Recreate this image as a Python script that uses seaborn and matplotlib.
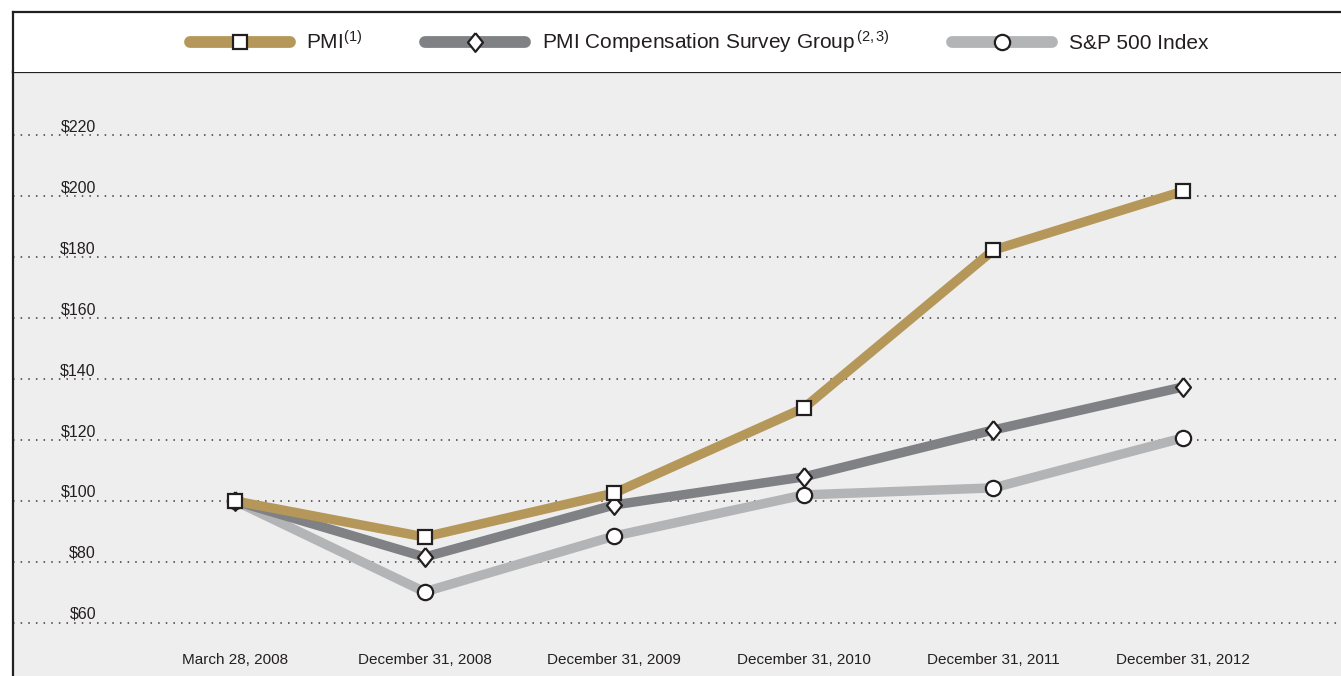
import numpy as np
import pandas as pd
import seaborn as sns
import matplotlib.pyplot as plt
from matplotlib.lines import Line2D
from matplotlib.transforms import blended_transform_factory

# Data
dates = ["March 28, 2008", "December 31, 2008", "December 31, 2009",
         "December 31, 2010", "December 31, 2011", "December 31, 2012"]
pmi = [100, 88.2, 102.6, 130.5, 182.3, 201.6]
comp_group = [100, 81.6, 98.7, 107.9, 123.3, 137.4]
sp500 = [100, 70.2, 88.5, 102.0, 104.3, 120.7]
y_ticks = [60, 80, 100, 120, 140, 160, 180, 200, 220]
y_labels = ["$60", "$80", "$100", "$120", "$140", "$160", "$180", "$200", "$220"]

series_names = ["PMI", "PMI Compensation Survey Group", "S&P 500 Index"]
legend_labels = [r"PMI$^{\mathrm{(1)}}$",
                 r"PMI Compensation Survey Group$^{\mathrm{\,(2,3)}}$",
                 "S&P 500 Index"]
colors = ["#b5975a", "#808184", "#b3b4b6"]
diamond = [(0, 1), (0.8, 0), (0, -1), (-0.8, 0), (0, 1)]
markers = ["s", diamond, "o"]
msizes = [10, 13.5, 11]

df = pd.DataFrame({
    "idx": list(range(len(dates))) * 3,
    "value": pmi + comp_group + sp500,
    "series": np.repeat(series_names, len(dates)),
})

sns.set_style("white")
plt.rcParams["font.family"] = ["Liberation Sans", "DejaVu Sans"]
plt.rcParams["mathtext.fontset"] = "custom"
plt.rcParams["mathtext.rm"] = "Liberation Sans"
plt.rcParams["mathtext.it"] = "Liberation Sans:italic"
plt.rcParams["mathtext.bf"] = "Liberation Sans:bold"

W, H = 1341, 676
fig = plt.figure(figsize=(W / 100, H / 100), dpi=100)
fig.patch.set_facecolor("white")

dark = "#231f20"
left = 13
ax = fig.add_axes([left / W, 0, (W - left) / W, (H - 72) / H])
ax.set_facecolor("#eeeeee")

# S&P drawn first so PMI ends up on top
order = list(zip(series_names, colors, markers, msizes))[::-1]
for z, (name, c, m, ms) in enumerate(order):
    sns.lineplot(data=df[df.series == name], x="idx", y="value", ax=ax,
                 color=c, marker=m, markersize=ms, lw=6.8,
                 markerfacecolor="white", markeredgecolor=dark,
                 markeredgewidth=1.6, legend=False, zorder=3 + z)

ax.set_xlim(-1.171, 5.833)
ax.set_ylim(42.6, 240.7)
ax.set_yticks(y_ticks)
ax.set_xticks([])
ax.tick_params(left=False, labelleft=False)
ax.set_xlabel("")
ax.set_ylabel("")
ax.grid(axis="y", color="#3a3a3a", linestyle=(0, (1, 4)), lw=1.1)
ax.grid(axis="x", visible=False)
for s in ["right", "bottom"]:
    ax.spines[s].set_visible(False)
for s in ["left", "top"]:
    ax.spines[s].set_color(dark)
    ax.spines[s].set_linewidth(1.6)

ytrans = blended_transform_factory(ax.transAxes, ax.transData)
for v, lab in zip(y_ticks, y_labels):
    ax.annotate(lab, xy=(0.0625, v), xycoords=ytrans, xytext=(0, 4),
                textcoords="offset pixels", ha="right", va="baseline",
                fontsize=11.5, color=dark)

xtrans = blended_transform_factory(ax.transData, ax.transAxes)
for i, d in enumerate(dates):
    ax.text(i, 0.0273, d, transform=xtrans, ha="center", va="center",
            fontsize=11, color=dark)

# legend band on top
lax = fig.add_axes([left / W, (H - 72) / H, (W - left) / W, 60 / H])
lax.set_facecolor("white")
lax.set_xticks([])
lax.set_yticks([])
for s in ["right", "bottom"]:
    lax.spines[s].set_visible(False)
for s in ["left", "top"]:
    lax.spines[s].set_color(dark)
    lax.spines[s].set_linewidth(1.6)

handles = [Line2D([], [], color=c, lw=8.5, solid_capstyle="round",
                  marker=m, markersize=ms, markerfacecolor="white",
                  markeredgecolor=dark, markeredgewidth=1.6)
           for c, m, ms in zip(colors, markers, msizes)]
fig.legend(handles, legend_labels, loc="center", ncol=3,
           bbox_to_anchor=(699 / W, 1 - 42 / H), frameon=False,
           fontsize=15, handlelength=4.8, handletextpad=0.8,
           columnspacing=3.0, labelcolor=dark)

fig.savefig("out.png", dpi=100)
